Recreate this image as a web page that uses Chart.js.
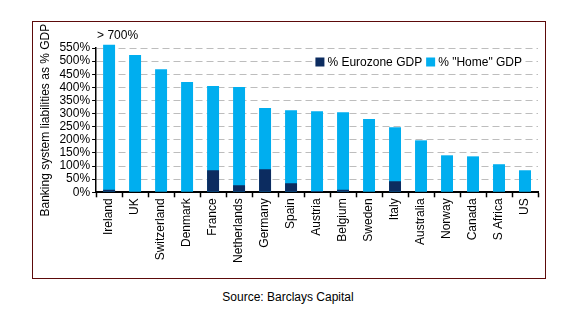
<!DOCTYPE html>
<html>
<head>
<meta charset="utf-8">
<script src="https://cdn.jsdelivr.net/npm/chart.js@4"></script>
<style>
  body { margin: 0; background: #fff; width: 567px; height: 331px; position: relative; overflow: hidden; }
  #frame { position: absolute; left: 32px; top: 21px; width: 512px; height: 256px; border: 1px solid #5c0a0a; }
  #frame canvas { display: block; }
  #source { position: absolute; left: 0; width: 576px; top: 290px; text-align: center;
            font: 12px "Liberation Sans", Arial, sans-serif; color: #000; }
</style>
</head>
<body>
<div id="frame"><canvas id="c" width="512" height="256"></canvas></div>
<div id="source">Source: Barclays Capital</div>
<script>
const countries = ['Ireland','UK','Switzerland','Denmark','France','Netherlands','Germany','Spain',
                   'Austria','Belgium','Sweden','Italy','Australia','Norway','Canada','S Africa','US'];
// banking system liabilities, % of domestic GDP (Ireland is off the scale, > 700%)
const homeGdp = [562, 523, 469, 420, 405, 401, 321, 313, 309, 305, 279, 248, 198, 141, 137, 107, 84];
// same liabilities, % of eurozone GDP
const eurozoneGdp = [10, 0, 0, 0, 84, 27, 88, 34, 5, 10, 0, 42, 0, 0, 0, 0, 0];
const yTicks = [0, 50, 100, 150, 200, 250, 300, 350, 400, 450, 500, 550];
const cappedNote = '> 700%';

const NAVY = '#0c2c60', SKY = '#00aeef';
const FONT = '"Liberation Sans", Arial, sans-serif';

// legend drawn inside the plot, with a white backing over the grid lines
const insideLegend = {
  id: 'insideLegend',
  afterDraw(chart) {
    const ctx = chart.ctx, a = chart.chartArea;
    const items = chart.data.datasets.slice().sort((p, q) => p.order - q.order);
    ctx.save();
    ctx.font = '12px ' + FONT;
    const box = 9, gap = 3, spacing = 4;
    let total = 0;
    items.forEach(d => total += box + gap + ctx.measureText(d.label).width);
    total += spacing * (items.length - 1);
    let x = a.right - 16 - total;
    const y = a.top + 14;
    ctx.fillStyle = '#fff';
    ctx.fillRect(x - 3, y - 8, total + 6, 16);
    ctx.textBaseline = 'middle';
    items.forEach(d => {
      ctx.fillStyle = d.backgroundColor;
      ctx.fillRect(x, y - box / 2, box, box);
      x += box + gap;
      ctx.fillStyle = '#000';
      ctx.fillText(d.label, x, y + 1);
      x += ctx.measureText(d.label).width + spacing;
    });
    ctx.restore();
  }
};

// "> 700%" note above the truncated Ireland bar
const capNote = {
  id: 'capNote',
  afterDatasetsDraw(chart) {
    const ctx = chart.ctx, xs = chart.scales.x, a = chart.chartArea;
    ctx.save();
    ctx.font = '12px ' + FONT;
    ctx.fillStyle = '#000';
    ctx.textBaseline = 'middle';
    ctx.fillText(cappedNote, xs.getPixelForValue(0) - 12, a.top - 12);
    ctx.restore();
  }
};

new Chart(document.getElementById('c'), {
  type: 'bar',
  data: {
    labels: countries,
    datasets: [
      { label: '% Eurozone GDP', data: eurozoneGdp, backgroundColor: NAVY, order: 0 },
      { label: '% "Home" GDP', data: homeGdp, backgroundColor: SKY, order: 1, clip: false }
    ]
  },
  options: {
    responsive: false,
    animation: false,
    layout: { padding: { left: 5, right: 7, top: 26, bottom: 14 } },
    datasets: { bar: { grouped: false, categoryPercentage: 1, barPercentage: 0.46 } },
    plugins: { legend: { display: false }, tooltip: { enabled: false } },
    scales: {
      x: {
        grid: { drawOnChartArea: false, drawTicks: true, tickLength: 5, tickColor: '#000', tickWidth: 1.5, offset: true },
        border: { color: '#000', width: 2 },
        ticks: { color: '#000', font: { size: 12, family: FONT }, minRotation: 90, maxRotation: 90, padding: 1, autoSkip: false }
      },
      y: {
        min: 0, max: 550,
        afterBuildTicks: s => { s.ticks = yTicks.map(v => ({ value: v })); },
        grid: { color: '#bdbdbd', lineWidth: 1, tickLength: 4, tickColor: '#000', tickWidth: 1, tickBorderDash: [] },
        border: { color: '#000', width: 1.5, dash: [7, 4] },
        ticks: { color: '#000', font: { size: 12, family: FONT }, padding: 2, autoSkip: false, callback: v => v + '%' },
        title: { display: true, text: 'Banking system liabilities as % GDP', color: '#000',
                 font: { size: 12, family: FONT }, padding: { top: 0, bottom: 5 } }
      }
    }
  },
  plugins: [insideLegend, capNote]
});
</script>
</body>
</html>
